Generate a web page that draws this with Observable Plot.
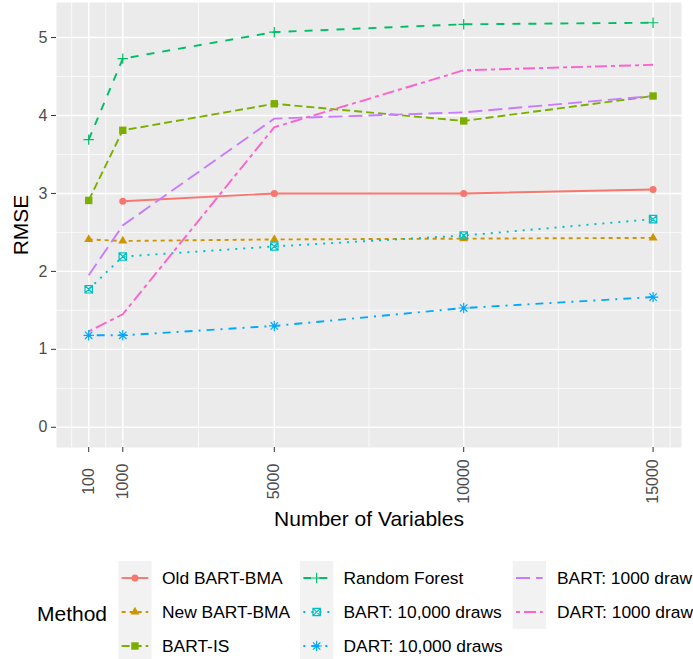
<!DOCTYPE html>
<html><head><meta charset="utf-8">
<script src="https://cdn.jsdelivr.net/npm/d3@7"></script>
<script src="https://cdn.jsdelivr.net/npm/@observablehq/plot@0.6"></script>
<style>
body{margin:0;background:#fff;overflow:hidden;}
#chart{width:693px;height:659px;overflow:hidden;position:relative;font-family:"Liberation Sans",Arial,sans-serif;background:#fff;}
#chart svg{display:block;}
</style></head><body><div id="chart"></div>
<script>
// ---- data ----
const numVars = [100, 1000, 5000, 10000, 15000];
const methods = ["Old BART-BMA", "New BART-BMA", "BART-IS", "Random Forest",
  "BART: 10,000 draws", "DART: 10,000 draws", "BART: 1000 draw", "DART: 1000 draw"];
const oldBartBma   = [null, 2.90, 3.00, 3.00, 3.05];
const newBartBma   = [2.41, 2.39, 2.41, 2.42, 2.43];
const bartIS       = [2.91, 3.81, 4.15, 3.93, 4.25];
const randomForest = [3.69, 4.73, 5.07, 5.17, 5.19];
const bart10k      = [1.77, 2.19, 2.32, 2.46, 2.67];
const dart10k      = [1.18, 1.18, 1.30, 1.53, 1.67];
const bart1k       = [1.95, 2.59, 3.96, 4.04, 4.25];
const dart1k       = [1.23, 1.45, 3.85, 4.58, 4.65];
const xBreaks = [100, 1000, 5000, 10000, 15000];
const xMinor = [-350, 550, 3000, 7500, 12500, 15450];
const yBreaks = [0, 1, 2, 3, 4, 5];
const yMinor = [0.5, 1.5, 2.5, 3.5, 4.5];

// ---- styles ----
const seriesValues = [oldBartBma, newBartBma, bartIS, randomForest, bart10k, dart10k, bart1k, dart1k];
const colors = ["#F8766D","#CD9600","#7CAE00","#00BE67","#00BFC4","#00A9FF","#C77CFF","#FF61CC"];
const dashes = ["none","4,4","8,4","8,8","2,6","2,6,8,6","14,6","4,4,12,4"];
const shapeNames = ["circle","triangle","square","plus","squareCross","asterisk",null,null];

const symbols = {
  circle: {filled: true, draw(c){ const r = 3.5; c.moveTo(r, 0); c.arc(0, 0, r, 0, 2*Math.PI); }},
  triangle: {filled: true, draw(c){ const s = 9, h = s*Math.sqrt(3)/2; c.moveTo(0, -2*h/3); c.lineTo(s/2, h/3); c.lineTo(-s/2, h/3); c.closePath(); }},
  square: {filled: true, draw(c){ const a = 3.7; c.moveTo(-a,-a); c.lineTo(a,-a); c.lineTo(a,a); c.lineTo(-a,a); c.closePath(); }},
  plus: {filled: false, draw(c){ const a = 5.2; c.moveTo(-a,0); c.lineTo(a,0); c.moveTo(0,-a); c.lineTo(0,a); }},
  squareCross: {filled: false, draw(c){ const a = 3.7; c.moveTo(-a,-a); c.lineTo(a,-a); c.lineTo(a,a); c.lineTo(-a,a); c.closePath(); c.moveTo(-a,-a); c.lineTo(a,a); c.moveTo(-a,a); c.lineTo(a,-a); }},
  asterisk: {filled: false, draw(c){ const a = 5.2, b = 3.7; c.moveTo(-a,0); c.lineTo(a,0); c.moveTo(0,-a); c.lineTo(0,a); c.moveTo(-b,-b); c.lineTo(b,b); c.moveTo(-b,b); c.lineTo(b,-b); }}
};

const FONT = '"Liberation Sans", Arial, sans-serif';
const LW = 1.9;

const seriesData = seriesValues.map((vals) =>
  numVars.map((x, i) => ({x, y: vals[i]})).filter(d => d.y != null));

const lineMarks = seriesData.map((data, k) => Plot.line(data, {
  x: "x", y: "y", stroke: colors[k], strokeWidth: LW,
  strokeDasharray: dashes[k], strokeLinecap: "butt", strokeLinejoin: "round"
}));

const pointMarks = seriesData.map((data, k) => {
  const name = shapeNames[k];
  if (!name) return null;
  const s = symbols[name];
  return Plot.dot(data, {
    x: "x", y: "y", r: 1, symbol: s,
    fill: s.filled ? colors[k] : "none",
    stroke: s.filled ? "none" : colors[k],
    strokeWidth: s.filled ? 0 : 1.2
  });
}).filter(Boolean);

const plot = Plot.plot({
  width: 693, height: 540,
  marginLeft: 56, marginRight: 12, marginTop: 2, marginBottom: 93,
  style: {fontFamily: FONT, background: "white", overflow: "visible"},
  x: {domain: [-750, 15750]},
  y: {domain: [-0.2595, 5.4495]},
  marks: [
    Plot.frame({fill: "#EBEBEB", stroke: null}),
    Plot.ruleX(xMinor, {stroke: "white", strokeWidth: 0.7}),
    Plot.ruleY(yMinor, {stroke: "white", strokeWidth: 0.7}),
    Plot.ruleX(xBreaks, {stroke: "white", strokeWidth: 1.4}),
    Plot.ruleY(yBreaks, {stroke: "white", strokeWidth: 1.4}),
    ...lineMarks,
    ...pointMarks,
    Plot.axisY({ticks: yBreaks, tickFormat: d => String(d), tickSize: 5, tickPadding: 4, fontSize: 16,
      fill: "#4D4D4D", stroke: "#333333", label: null}),
    Plot.axisX({ticks: xBreaks, tickSize: 5, tickFormat: () => "",
      stroke: "#333333", label: null}),
    Plot.text(xBreaks, {x: d => d, text: d => String(d), frameAnchor: "bottom",
      dy: 34, rotate: -90, textAnchor: "middle", lineAnchor: "middle",
      fontSize: 16, fill: "#4D4D4D"}),
    Plot.text(["RMSE"], {text: d => d, frameAnchor: "left", dx: -35, rotate: -90,
      textAnchor: "middle", lineAnchor: "middle", fontSize: 21, fill: "black"}),
    Plot.text(["Number of Variables"], {text: d => d, frameAnchor: "bottom", dy: 72,
      textAnchor: "middle", lineAnchor: "middle", fontSize: 21, fill: "black"})
  ]
});
const chart = document.getElementById("chart");
chart.appendChild(plot);

// ---- legend (below the plot) ----
const legendH = 119;
const lg = d3.select(chart).append("svg")
  .attr("width", 693).attr("height", legendH)
  .style("font-family", FONT).style("overflow", "hidden");
const off = 540;
lg.append("text").attr("x", 37).attr("y", 613 - off)
  .attr("dominant-baseline", "central").attr("font-size", 21).attr("fill", "black")
  .text("Method");
const colX = [118.3, 300, 512.7];
const textX = [162, 343.5, 557];
const rowY = [578, 612, 646];
const keyW = 33.3, keyH = 34;
const cols = [[0,1,2],[3,4,5],[6,7]];
cols.forEach((idxs, c) => {
  idxs.forEach((k, r) => {
    const cx = colX[c], cy = rowY[r] - off;
    lg.append("rect").attr("x", cx).attr("y", cy - keyH/2).attr("width", keyW).attr("height", keyH)
      .attr("fill", "#F2F2F2");
    lg.append("line").attr("x1", cx + 0.1*keyW).attr("x2", cx + 0.9*keyW)
      .attr("y1", cy).attr("y2", cy)
      .attr("stroke", colors[k]).attr("stroke-width", LW)
      .attr("stroke-dasharray", dashes[k]).attr("stroke-linecap", "butt");
    const name = shapeNames[k];
    if (name) {
      const s = symbols[name];
      const p = d3.path(); s.draw(p);
      lg.append("path").attr("d", p.toString())
        .attr("transform", `translate(${cx + keyW/2},${cy})`)
        .attr("fill", s.filled ? colors[k] : "none")
        .attr("stroke", s.filled ? "none" : colors[k])
        .attr("stroke-width", s.filled ? 0 : 1.2);
    }
    lg.append("text").attr("x", textX[c]).attr("y", cy)
      .attr("dominant-baseline", "central").attr("font-size", 17.4).attr("fill", "black")
      .text(methods[k]);
  });
});
</script>
</body></html>
